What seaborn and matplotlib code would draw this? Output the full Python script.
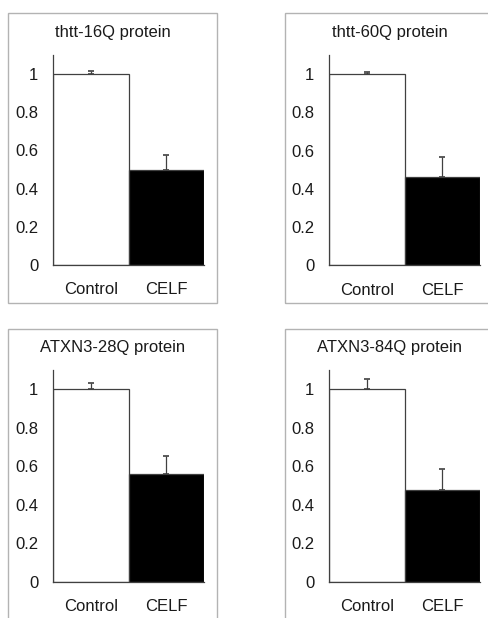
import matplotlib
matplotlib.use("Agg")
import matplotlib.pyplot as plt
import seaborn as sns
import pandas as pd
from matplotlib.patches import Rectangle

# ------------------------------
# Values
# ------------------------------
groups = ["Control", "CELF"]
titles = ["thtt-16Q protein", "thtt-60Q protein", "ATXN3-28Q protein", "ATXN3-84Q protein"]
means_16q = [1.0, 0.50]
means_60q = [1.0, 0.465]
means_28q = [1.0, 0.56]
means_84q = [1.0, 0.475]
err_16q = [0.015, 0.076]
err_60q = [0.01, 0.10]
err_28q = [0.03, 0.095]
err_84q = [0.053, 0.11]
yticks = [0, 0.2, 0.4, 0.6, 0.8, 1]
ytick_labels = ["0", "0.2", "0.4", "0.6", "0.8", "1"]

means = [means_16q, means_60q, means_28q, means_84q]
errors = [err_16q, err_60q, err_28q, err_84q]

sns.set_style("white")
plt.rcParams["font.family"] = ["Liberation Sans", "DejaVu Sans"]

W, H = 489, 618
fig = plt.figure(figsize=(W / 100, H / 100), dpi=100)

# panel geometry in pixels: axes (left, right, top, bottom), framing box (x, y, w, h), title y
axes_px = [(53, 204, 55, 265), (329, 480, 55, 265.5),
           (53, 204, 370, 581.7), (329, 480, 370, 581.7)]
boxes_px = [(8, 13, 209, 290), (285, 13, 209, 290),
            (8, 329, 209, 290), (285, 329, 209, 290)]
title_y = [33, 33, 347, 347]

spine_col = "#404040"
text_col = "#1a1a1a"
fs = 12

for i in range(4):
    l, r, t, b = axes_px[i]
    ax = fig.add_axes([l / W, 1 - b / H, (r - l) / W, (b - t) / H])
    df = pd.DataFrame({"group": groups, "value": means[i]})
    sns.barplot(data=df, x="group", y="value", hue="group",
                palette=["white", "black"], legend=False,
                width=1.0, edgecolor=spine_col, linewidth=0.9, ax=ax)
    ax.errorbar([0, 1], means[i], yerr=[[0, 0], errors[i]], fmt="none",
                ecolor=spine_col, elinewidth=0.9, capsize=2, capthick=1.2, zorder=3)
    ax.set_xlim(-0.5, 1.5)
    ax.set_ylim(0, 1.1)
    ax.set_yticks(yticks)
    ax.set_yticklabels(ytick_labels)
    ax.set_xlabel("")
    ax.set_ylabel("")
    ax.tick_params(axis="y", length=0, pad=10.5, labelsize=fs, colors=text_col)
    ax.tick_params(axis="x", length=0, pad=12.5, labelsize=fs, colors=text_col)
    for side in ["top", "right"]:
        ax.spines[side].set_visible(False)
    for side in ["left", "bottom"]:
        ax.spines[side].set_color(spine_col)
        ax.spines[side].set_linewidth(0.9)
    ax.patch.set_alpha(0)

    bx, by, bw, bh = boxes_px[i]
    fig.patches.append(Rectangle((bx / W, 1 - (by + bh) / H), bw / W, bh / H,
                                 transform=fig.transFigure, fill=False,
                                 edgecolor="#b3b3b3", linewidth=1.0, zorder=0))
    fig.text((bx + bw / 2) / W, 1 - title_y[i] / H, titles[i],
             ha="center", va="center", fontsize=fs, color=text_col)

fig.savefig("out.png", dpi=100)
